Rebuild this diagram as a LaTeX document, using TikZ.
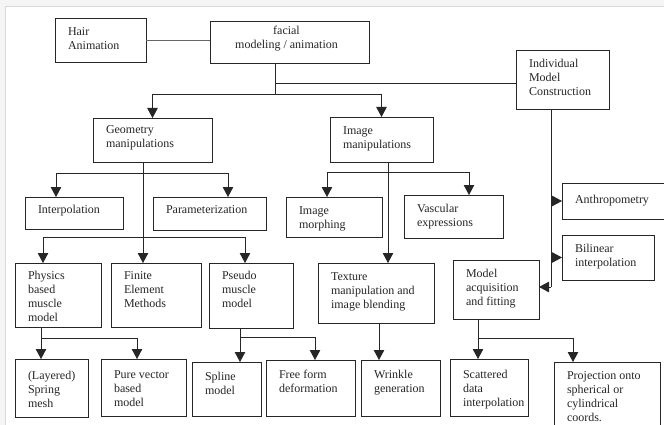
\documentclass[tikz,border=0pt]{standalone}
\usepackage{fontspec}
\setmainfont{Liberation Serif}
\usetikzlibrary{arrows.meta,calc}
\newcommand\bxn[7]{%
  \node[bx, minimum width=#4pt, minimum height=#5pt] (#1) at (#2,#3) {};
  \node[tx] (#1-t) at ($(#1.north west)+(13,#6-9.8)$) {\strut #7};}
\begin{document}
\begin{tikzpicture}[x=1pt,y=-1pt,
  bx/.style={draw=black!85, line width=0.8pt, inner sep=0pt, outer sep=0pt, anchor=north west},
  tx/.style={inner sep=0pt, outer sep=0pt, anchor=north west, align=left, text=black!85, font=\fontsize{12}{14}\selectfont},
  ln/.style={line width=0.8pt, black!85},
  arr/.style={line width=0.8pt, black!85, -{Triangle[width=10.5pt,length=10pt]}},
]
\useasboundingbox (0,0) rectangle (664,425);
\fill[black!4] (0,0) rectangle (664,425);
\fill[white, draw=black!15] (5,6) rectangle (670,430);
\clip (0,0) rectangle (664,425);

% boxes
\bxn{hair}{55}{18}{91}{44}{17.7}{Hair\\Animation}
\node[bx, minimum width=159pt, minimum height=42pt] (facial) at (210,21) {};
\node[tx, anchor=north, align=center] (facial-t) at ($(facial.north)+(-3,14-9.8)$) {\strut facial\\modeling / animation};
\bxn{ind}{516}{50}{93}{59}{18}{Individual\\Model\\Construction}
\bxn{geo}{93}{118}{119}{44}{16}{Geometry\\manipulations}
\bxn{img}{330}{117}{103}{45}{18}{Image\\manipulations}
\bxn{int}{25}{197}{98}{32}{16}{Interpolation}
\bxn{par}{153}{197}{113}{33}{16}{Parameterization}
\bxn{morph}{286}{197}{96}{40}{17}{Image\\morphing}
\bxn{vasc}{404}{195}{99}{43}{17}{Vascular\\expressions}
\bxn{anth}{562}{183}{110}{36}{20}{Anthropometry}
\bxn{bil}{562}{235}{92}{45}{17}{Bilinear\\interpolation}
\bxn{phys}{15}{263}{86}{64}{16}{Physics\\based\\muscle\\model}
\bxn{fem}{111}{263}{90}{64}{16}{Finite\\Element\\Methods}
\bxn{pseudo}{209}{263}{84}{65}{16}{Pseudo\\muscle\\model}
\bxn{tex}{318}{263}{116}{60}{17}{Texture\\manipulation and\\image blending}
\bxn{macq}{453}{260}{86}{59}{17}{Model\\acquisition\\and fitting}
\bxn{spring}{15}{359}{73}{58}{20}{(Layered)\\Spring\\mesh}
\bxn{pure}{101}{359}{85}{57}{19}{Pure vector\\based\\model}
\bxn{spline}{192}{362}{69}{54}{18}{Spline\\model}
\bxn{free}{266}{360}{89}{56}{18}{Free form\\deformation}
\bxn{wrinkle}{361}{360}{79}{56}{18}{Wrinkle\\generation}
\bxn{scat}{450}{359}{78}{57}{19}{Scattered\\data\\interpolation}
\bxn{proj}{554}{362}{106}{80}{17}{Projection onto\\spherical or\\cylindrical\\coords.}

% junction coordinates
\coordinate (jF) at (275,94);
\coordinate (jI) at (275,83);
\coordinate (iv) at (551,287);
\coordinate (gx) at (143,0);
\coordinate (g1) at (56,173);
\coordinate (g2) at (228,173);
\coordinate (g3) at (43,237);
\coordinate (g4) at (245,237);
\coordinate (ix) at (388,0);
\coordinate (i1) at (327,172);
\coordinate (i2) at (469,172);
\coordinate (p1) at (41,338);
\coordinate (p2) at (137,338);
\coordinate (s1) at (240,337);
\coordinate (s2) at (315,337);
\coordinate (t1) at (379,0);
\coordinate (m1) at (478,338);
\coordinate (m2) at (573,338);

% connectors
\draw[ln, black!60] (hair.east) -- (hair.east -| facial.west);
\draw[ln] (jF |- facial.south) -- (jF);
\draw[ln] (jI) -- (jI -| ind.west);
\draw[arr] (jF) -| (geo.north);
\draw[arr] (jF) -| (img.north);

\draw[ln] (iv |- ind.south) -- (iv);
\draw[arr] (iv |- anth.west) -- (anth.west);
\draw[arr] (iv |- bil.west) -- (bil.west);
\draw[arr] (iv) -- (iv -| macq.east);

\draw[arr] (gx |- geo.south) -- (gx |- fem.north);
\draw[ln] (g1) -- (g2);
\draw[arr] (g1) -- (g1 |- int.north);
\draw[arr] (g2) -- (g2 |- par.north);
\draw[ln] (g3) -- (g4);
\draw[arr] (g3) -- (g3 |- phys.north);
\draw[arr] (g4) -- (g4 |- pseudo.north);

\draw[arr] (ix |- img.south) -- (ix |- tex.north);
\draw[ln] (i1) -- (i2);
\draw[arr] (i1) -- (i1 |- morph.north);
\draw[arr] (i2) -- (i2 |- vasc.north);

\draw[arr] (p1 |- phys.south) -- (p1 |- spring.north);
\draw[ln] (p1) -- (p2);
\draw[arr] (p2) -- (p2 |- pure.north);

\draw[arr] (s1 |- pseudo.south) -- (s1 |- spline.north);
\draw[ln] (s1) -- (s2);
\draw[arr] (s2) -- (s2 |- free.north);

\draw[arr] (t1 |- tex.south) -- (t1 |- wrinkle.north);

\draw[arr] (m1 |- macq.south) -- (m1 |- scat.north);
\draw[ln] (m1) -- (m2);
\draw[arr] (m2) -- (m2 |- proj.north);
\end{tikzpicture}
\end{document}
